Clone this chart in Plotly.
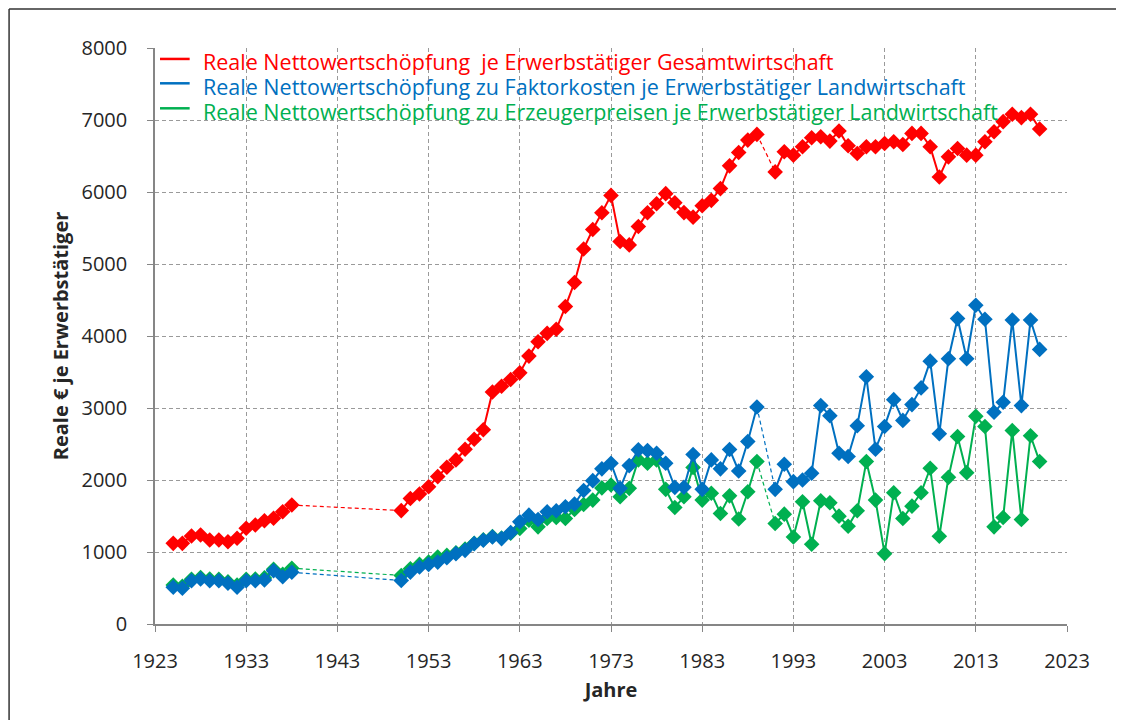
import plotly.graph_objects as go

# ---------------- data ----------------
years = (list(range(1925, 1939)) + list(range(1950, 1990)) + list(range(1991, 2021)))

gesamt = [1120, 1120, 1222, 1236, 1167, 1167, 1143, 1190, 1329, 1375, 1435, 1468, 1560, 1653,
          1575, 1744, 1805, 1907, 2047, 2177, 2279, 2428, 2567, 2698,
          3223, 3302, 3395, 3488, 3721, 3921, 4037, 4093, 4409, 4744,
          5209, 5479, 5712, 5953, 5312, 5265, 5521, 5712, 5837, 5977,
          5851, 5714, 5651, 5810, 5884, 6047, 6363, 6549, 6721, 6800,
          6279, 6558, 6512, 6628, 6753, 6767, 6707, 6847, 6642,
          6535, 6628, 6628, 6674, 6698, 6660, 6814, 6814, 6628, 6209,
          6488, 6605, 6512, 6512, 6698, 6837, 6977, 7079, 7033, 7079,
          6874]

faktorkosten = [510, 496, 601, 625, 601, 601, 565, 510, 601, 601, 611, 740, 657, 718,
                605, 721, 791, 828, 860, 921, 977, 1023, 1116, 1163,
                1209, 1186, 1270, 1419, 1512, 1451, 1558, 1572, 1628, 1665,
                1855, 1991, 2155, 2233, 1884, 2200, 2419, 2409, 2372, 2233,
                1898, 1900, 2355, 1870, 2279, 2155, 2424, 2125, 2535, 3014,
                1870, 2219, 1977, 2000, 2093, 3033, 2893, 2372, 2326,
                2753, 3433, 2428, 2744, 3116, 2828, 3047, 3279, 3651, 2642,
                3684, 4242, 3684, 4428, 4233, 2940, 3079, 4223, 3033, 4223,
                3814]

erzeuger = [540, 525, 620, 645, 625, 620, 585, 540, 620, 625, 640, 760, 690, 775,
            674, 767, 828, 860, 930, 953, 990, 1040, 1120, 1170,
            1215, 1195, 1260, 1326, 1442, 1349, 1465, 1479, 1465, 1591,
            1660, 1721, 1890, 1930, 1767, 1884, 2279, 2233, 2279, 1870,
            1619, 1767, 2175, 1721, 1815, 1535, 1780, 1458, 1837, 2256,
            1395, 1526, 1209, 1698, 1107, 1712, 1684, 1498, 1358,
            1572, 2256, 1721, 977, 1823, 1465, 1637, 1823, 2163, 1219,
            2037, 2605, 2102, 2884, 2744, 1349, 1479, 2688, 1451, 2614,
            2256]

names = ["Reale Nettowertschöpfung\u00a0 je Erwerbstätiger Gesamtwirtschaft",
         "Reale Nettowertschöpfung zu Faktorkosten je Erwerbstätiger Landwirtschaft",
         "Reale Nettowertschöpfung zu Erzeugerpreisen je Erwerbstätiger Landwirtschaft"]

x_ticks = list(range(1923, 2024, 10))
y_ticks = list(range(0, 8001, 1000))

RED, BLUE, GREEN = "#FF0000", "#0070C0", "#00B050"
FONT = "Open Sans"
TXT = "#262626"


def split_gaps(xs, ys):
    """Insert None at gaps so solid lines break; return gap endpoints."""
    sx, sy, gx, gy = [], [], [], []
    for i, (a, b) in enumerate(zip(xs, ys)):
        if i > 0 and a - xs[i - 1] > 1:
            sx.append(None); sy.append(None)
            gx += [xs[i - 1], a, None]
            gy += [ys[i - 1], b, None]
        sx.append(a); sy.append(b)
    return sx, sy, gx, gy


fig = go.Figure()

series = [(erzeuger, GREEN, names[2]), (faktorkosten, BLUE, names[1]), (gesamt, RED, names[0])]
for vals, col, nm in series:
    sx, sy, gx, gy = split_gaps(years, vals)
    fig.add_trace(go.Scatter(x=gx, y=gy, mode="lines",
                             line=dict(color=col, width=1.2, dash="4px,3px"),
                             showlegend=False, hoverinfo="skip"))
    fig.add_trace(go.Scatter(x=sx, y=sy, mode="lines+markers", name=nm,
                             line=dict(color=col, width=2),
                             marker=dict(symbol="diamond", size=12, color=col),
                             showlegend=False))

grid = dict(showgrid=True, gridcolor="#9A9A9A", griddash="4px,3px", gridwidth=1.2)

fig.update_layout(
    width=1124, height=720,
    margin=dict(l=147, r=65, t=40, b=104),
    paper_bgcolor="white", plot_bgcolor="white",
    font=dict(family=FONT, size=20, color=TXT),
    showlegend=False,
    xaxis=dict(range=[1923, 2023], tickvals=x_ticks, ticktext=[str(v) for v in x_ticks],
               showline=True, linecolor="#868686", linewidth=1.5,
               ticks="outside", ticklen=6, tickcolor="#868686",
               ticklabelstandoff=12, zeroline=False,
               title=dict(text="<b>Jahre</b>", font=dict(family=FONT, size=20, color=TXT),
                          standoff=10),
               **grid),
    yaxis=dict(range=[0, 8000], tickvals=y_ticks, ticktext=[str(v) for v in y_ticks],
               showline=True, linecolor="#868686", linewidth=1.5,
               ticks="outside", ticklen=6, tickcolor="#868686",
               ticklabelstandoff=16, zeroline=False,
               title=dict(text="<b>Reale € je Erwerbstätiger</b>",
                          font=dict(family=FONT, size=20, color=TXT), standoff=8),
               **grid),
)

# legend drawn inside the plot: short line + coloured text
leg_line_y = [0.981, 0.9387, 0.8953]
leg_text_y = [0.9757, 0.9332, 0.8898]
for name, col, ly, ty in zip(names, [RED, BLUE, GREEN], leg_line_y, leg_text_y):
    fig.add_shape(type="line", xref="paper", yref="paper", x0=0.0055, x1=0.038, y0=ly, y1=ly,
                  line=dict(color=col, width=2.5))
    fig.add_annotation(xref="paper", yref="paper", x=0.0505, y=ty, xanchor="left",
                       yanchor="middle", text=name, showarrow=False,
                       font=dict(family=FONT, size=21.5, color=col))

# outer frame (left and top edges visible)
fig.add_shape(type="line", xref="paper", yref="paper", x0=-0.160, x1=-0.160, y0=1.0677, y1=-0.2,
              line=dict(color="#333333", width=1.5))
fig.add_shape(type="line", xref="paper", yref="paper", x0=-0.160, x1=1.1, y0=1.0677, y1=1.0677,
              line=dict(color="#333333", width=1.5))

fig.write_html("out.html")
